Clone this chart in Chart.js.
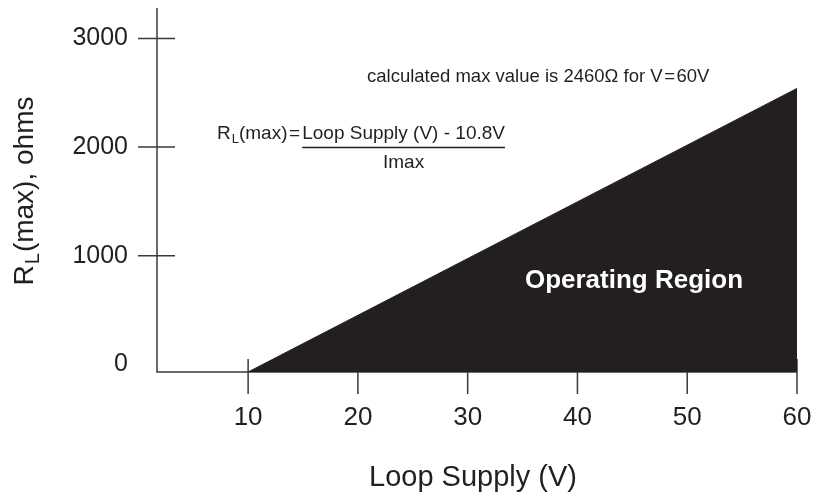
<!DOCTYPE html>
<html lang="en">
<head>
<meta charset="UTF-8">
<title>Loop Supply vs RL(max)</title>
<script src="https://cdn.jsdelivr.net/npm/chart.js@4"></script>
<style>
  html, body { margin: 0; padding: 0; background: #fff; }
  #chart { display: block; }
</style>
</head>
<body>
<canvas id="chart" width="824" height="501"></canvas>
<script>
// values
const supplyV = [10, 60];        // Loop Supply (V)
const rlMax = [-70, 2540];       // RL(max) edge of operating region, 10 V end sits on the axis
const xTicks = [10, 20, 30, 40, 50, 60];
const yTicks = [0, 1000, 2000, 3000];

const INK = '#231f20';
const AXIS = '#3a3a3a';
const FONT = "'Liberation Sans', Arial, Helvetica, sans-serif";

const points = supplyV.map((v, i) => ({ x: v, y: rlMax[i] }));

// axis lines + crossing tick marks, drawn under the region
const axesPlugin = {
  id: 'axes',
  beforeDatasetsDraw(chart) {
    const { ctx, chartArea: a, scales: { x, y } } = chart;
    ctx.save();
    ctx.strokeStyle = AXIS;
    ctx.lineWidth = 1.5;
    ctx.beginPath();
    ctx.moveTo(a.left, a.top);
    ctx.lineTo(a.left, a.bottom);
    ctx.lineTo(a.right, a.bottom);
    yTicks.forEach(v => {
      if (v === 0) return;
      const py = y.getPixelForValue(v);
      ctx.moveTo(a.left - 19, py);
      ctx.lineTo(a.left + 18, py);
    });
    xTicks.forEach(v => {
      const px = x.getPixelForValue(v);
      ctx.moveTo(px, a.bottom - 13);
      ctx.lineTo(px, a.bottom + 22);
    });
    ctx.stroke();
    ctx.restore();
  }
};

// titles and notes
const textPlugin = {
  id: 'texts',
  afterDraw(chart) {
    const { ctx } = chart;
    ctx.save();
    ctx.fillStyle = INK;
    ctx.textBaseline = 'alphabetic';

    // x title
    ctx.font = '29px ' + FONT;
    ctx.textAlign = 'center';
    ctx.fillText('Loop Supply (V)', 473, 486);

    // y title with subscript, rotated
    ctx.save();
    ctx.translate(33, 191);
    ctx.rotate(-Math.PI / 2);
    ctx.textAlign = 'left';
    const big = '28px ' + FONT, small = '20px ' + FONT;
    ctx.font = big; const wR = ctx.measureText('R').width;
    ctx.font = small; const wL = ctx.measureText('L').width;
    ctx.font = big; const wRest = ctx.measureText('(max), ohms').width;
    let sx = -(wR + wL + 2 + wRest) / 2;
    ctx.fillText('R', sx, 0); sx += wR + 1;
    ctx.font = small; ctx.fillText('L', sx, 6); sx += wL + 1;
    ctx.font = big; ctx.fillText('(max), ohms', sx, 0);
    ctx.restore();

    // note
    ctx.font = '18.5px ' + FONT;
    ctx.textAlign = 'left';
    ctx.fillText('calculated max value is 2460\u03A9 for V\u200A=\u200A60V', 367, 82);

    // formula
    let fx = 217;
    const f = '19px ' + FONT, fs = '13px ' + FONT;
    ctx.font = f; ctx.fillText('R', fx, 139); fx += ctx.measureText('R').width + 1;
    ctx.font = fs; ctx.fillText('L', fx, 143); fx += ctx.measureText('L').width;
    ctx.font = f; ctx.fillText('(max)\u200A=', fx, 139); fx += ctx.measureText('(max)\u200A=').width + 2;
    const num = 'Loop Supply (V) - 10.8V';
    const wn = ctx.measureText(num).width;
    ctx.fillText(num, fx, 139);
    ctx.strokeStyle = INK;
    ctx.lineWidth = 1.3;
    ctx.beginPath();
    ctx.moveTo(fx, 147.5);
    ctx.lineTo(fx + wn, 147.5);
    ctx.stroke();
    ctx.textAlign = 'center';
    ctx.fillText('Imax', fx + wn / 2, 168);

    // region label
    ctx.fillStyle = '#ffffff';
    ctx.font = 'bold 26px ' + FONT;
    ctx.textAlign = 'center';
    ctx.fillText('Operating Region', 634, 288);
    ctx.restore();
  }
};

new Chart(document.getElementById('chart'), {
  type: 'line',
  data: {
    datasets: [{
      data: points,
      fill: 'start',
      backgroundColor: INK,
      borderColor: INK,
      borderWidth: 1,
      pointRadius: 0,
      tension: 0
    }]
  },
  options: {
    responsive: false,
    animation: false,
    devicePixelRatio: 1,
    layout: { autoPadding: false, padding: { top: 8, right: 27, left: 0, bottom: 0 } },
    plugins: { legend: { display: false }, tooltip: { enabled: false }, title: { display: false } },
    scales: {
      x: {
        type: 'linear',
        min: 1.7,
        max: 60,
        afterBuildTicks: s => { s.ticks = xTicks.map(v => ({ value: v })); },
        afterFit: s => { s.height = 129; s.paddingLeft = 0; s.paddingRight = 0; s.paddingTop = 0; s.paddingBottom = 0; },
        grid: { display: false },
        border: { display: false },
        ticks: { color: INK, font: { family: FONT, size: 26 }, padding: 22, maxRotation: 0, autoSkip: false, callback: v => String(v) }
      },
      y: {
        type: 'linear',
        min: -70,
        max: 3280,
        afterBuildTicks: s => { s.ticks = yTicks.map(v => ({ value: v })); },
        afterFit: s => { s.width = 157; s.paddingLeft = 0; s.paddingRight = 0; s.paddingTop = 0; s.paddingBottom = 0; },
        grid: { display: false },
        border: { display: false },
        ticks: { color: INK, font: { family: FONT, size: 25 }, padding: 21, autoSkip: false, callback: v => String(v) }
      }
    }
  },
  plugins: [axesPlugin, textPlugin]
});
</script>
</body>
</html>
